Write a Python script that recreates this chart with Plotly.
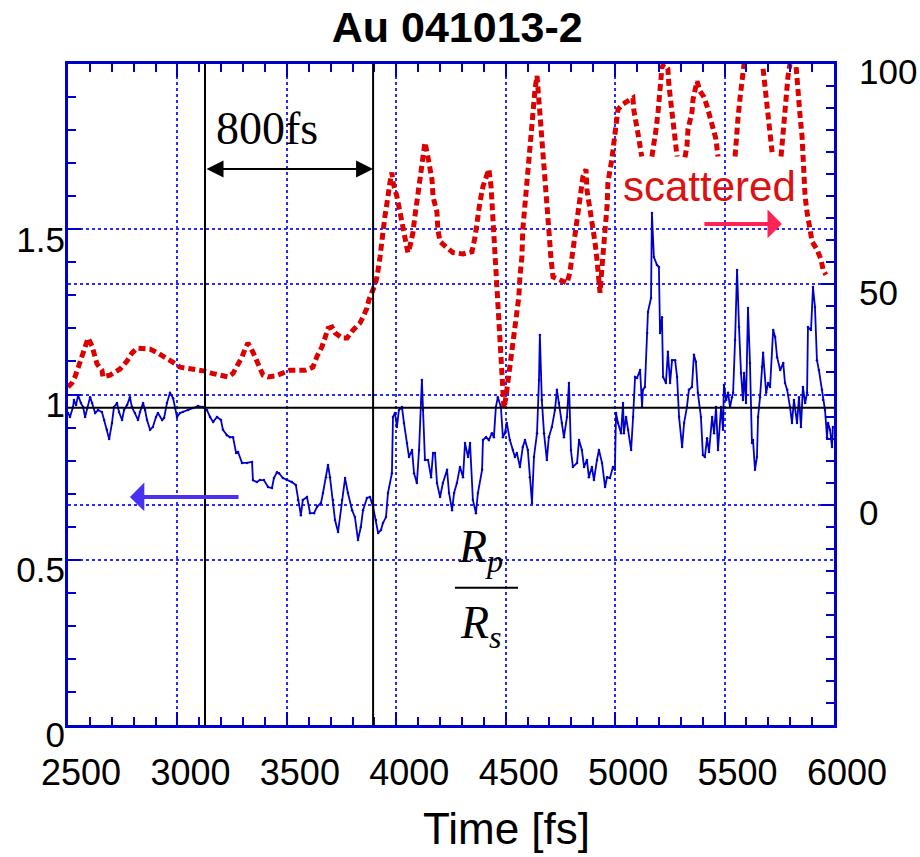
import plotly.graph_objects as go

# ---------------- data ----------------
blue_time = [2500, 2509, 2523, 2527, 2537, 2546, 2559, 2569, 2578, 2587, 2601, 2610, 2624, 2637, 2655, 2665,
             2678, 2688, 2701, 2710, 2724, 2733, 2747, 2756, 2770, 2783, 2792, 2806, 2820, 2829, 2843, 2852,
             2861, 2875, 2888, 2902, 2911, 2930, 2939, 2952, 2966, 2980, 2989, 2998, 3012, 3025, 3048, 3071,
             3094, 3117, 3135, 3149, 3163, 3181, 3199, 3208, 3226, 3240, 3254, 3268, 3277, 3295, 3318, 3341,
             3345, 3363, 3377, 3395, 3414, 3432, 3441, 3455, 3464, 3482, 3500, 3523, 3541, 3551, 3564, 3573,
             3592, 3606, 3624, 3638, 3656, 3665, 3679, 3688, 3697, 3711, 3720, 3734, 3752, 3766, 3779, 3798,
             3811, 3825, 3838, 3848, 3866, 3880, 3894, 3907, 3917, 3930, 3939, 3953, 3962, 3980, 3985, 3994,
             4003, 4012, 4026, 4035, 4049, 4058, 4072, 4081, 4094, 4104, 4117, 4122, 4131, 4145, 4159, 4168,
             4177, 4186, 4200, 4213, 4232, 4241, 4255, 4264, 4277, 4291, 4305, 4314, 4328, 4337, 4350, 4364,
             4373, 4392, 4396, 4410, 4423, 4437, 4446, 4455, 4464, 4478, 4487, 4496, 4505, 4519, 4533, 4542,
             4551, 4565, 4578, 4588, 4601, 4610, 4620, 4629, 4643, 4652, 4656, 4665, 4675, 4688, 4697, 4711,
             4725, 4734, 4743, 4757, 4766, 4780, 4789, 4798, 4807, 4826, 4835, 4848, 4858, 4871, 4880, 4894,
             4903, 4917, 4926, 4940, 4954, 4963, 4976, 4990, 4999, 5004, 5013, 5027, 5036, 5040, 5050, 5059,
             5073, 5082, 5091, 5100, 5114, 5123, 5127, 5136, 5146, 5150, 5164, 5168, 5177, 5191, 5200, 5205,
             5214, 5219, 5232, 5241, 5251, 5260, 5274, 5283, 5292, 5306, 5315, 5328, 5337, 5351, 5360, 5369,
             5378, 5392, 5401, 5410, 5420, 5429, 5443, 5452, 5461, 5470, 5484, 5493, 5497, 5507, 5516, 5525,
             5534, 5539, 5548, 5557, 5566, 5575, 5584, 5589, 5598, 5607, 5616, 5625, 5630, 5639, 5648, 5653,
             5662, 5671, 5676, 5690, 5699, 5708, 5722, 5731, 5740, 5754, 5768, 5776, 5786, 5799, 5808, 5817,
             5831, 5840, 5849, 5858, 5868, 5877, 5881, 5895, 5904, 5913, 5922, 5931, 5945, 5950, 5959, 5968,
             5973, 5982, 5991, 5995]
blue_ratio = [0.944, 0.932, 0.962, 0.983, 0.968, 0.998, 0.974, 0.962, 0.932, 0.959, 0.992, 0.974, 0.944, 0.953, 0.947, 0.923,
              0.893, 0.865, 0.914, 0.962, 0.974, 0.947, 0.923, 0.953, 0.968, 0.992, 0.962, 0.944, 0.923, 0.947, 0.974, 0.953,
              0.923, 0.893, 0.902, 0.932, 0.944, 0.923, 0.929, 0.974, 1.005, 0.989, 0.959, 0.932, 0.944, 0.947, 0.953, 0.959,
              0.965, 0.962, 0.953, 0.932, 0.917, 0.932, 0.923, 0.893, 0.877, 0.871, 0.871, 0.823, 0.826, 0.793, 0.793, 0.796,
              0.741, 0.735, 0.741, 0.741, 0.720, 0.717, 0.747, 0.765, 0.762, 0.747, 0.741, 0.735, 0.726, 0.681, 0.635, 0.681,
              0.690, 0.641, 0.641, 0.660, 0.672, 0.702, 0.750, 0.787, 0.750, 0.681, 0.620, 0.584, 0.681, 0.747, 0.702, 0.650,
              0.629, 0.560, 0.599, 0.650, 0.687, 0.690, 0.660, 0.620, 0.581, 0.590, 0.611, 0.629, 0.702, 0.762, 0.932, 0.944,
              0.902, 0.953, 0.962, 0.914, 0.853, 0.811, 0.832, 0.762, 0.732, 0.832, 1.044, 0.953, 0.802, 0.802, 0.750, 0.823,
              0.823, 0.732, 0.690, 0.732, 0.772, 0.702, 0.650, 0.702, 0.732, 0.781, 0.750, 0.853, 0.811, 0.853, 0.681, 0.641,
              0.702, 0.772, 0.862, 0.871, 0.862, 0.883, 0.871, 0.962, 0.992, 0.962, 0.871, 0.883, 0.914, 0.862, 0.832, 0.811,
              0.823, 0.781, 0.841, 0.862, 0.832, 0.750, 0.672, 0.811, 0.883, 1.044, 1.180, 0.983, 0.883, 0.802, 0.871, 0.902,
              0.953, 1.014, 0.974, 0.914, 0.871, 0.932, 1.035, 0.832, 0.781, 0.793, 0.862, 0.832, 0.781, 0.802, 0.750, 0.781,
              0.741, 0.802, 0.832, 0.793, 0.720, 0.750, 0.747, 0.781, 0.772, 0.944, 0.914, 0.883, 0.974, 0.883, 0.932, 0.893,
              0.832, 0.932, 1.053, 1.050, 1.074, 0.962, 1.014, 1.023, 1.186, 1.250, 1.292, 1.549, 1.416, 1.392, 1.386, 1.186,
              1.234, 1.053, 1.035, 1.129, 1.035, 1.104, 1.104, 1.053, 0.932, 0.841, 0.914, 0.962, 1.014, 1.023, 1.120, 1.099,
              1.005, 0.932, 0.817, 0.811, 0.868, 0.826, 0.932, 0.883, 0.962, 0.832, 0.962, 0.893, 1.029, 0.983, 1.005, 0.962,
              0.992, 1.005, 1.165, 1.377, 1.204, 1.065, 0.983, 1.065, 0.974, 1.262, 1.095, 0.853, 0.862, 0.772, 0.811, 0.932,
              0.992, 1.083, 1.126, 1.005, 1.035, 1.023, 1.195, 1.174, 1.113, 1.074, 1.095, 1.035, 1.014, 0.962, 0.914, 0.983,
              0.914, 0.992, 0.902, 1.023, 0.974, 1.005, 1.204, 1.195, 1.325, 1.265, 1.104, 1.074, 1.014, 0.983, 0.953, 0.871,
              0.914, 0.893, 0.841, 0.902]

red_time = [2500, 2518, 2532, 2546, 2564, 2578, 2592, 2610, 2632, 2655, 2660, 2692, 2715, 2738, 2770, 2792,
            2815, 2875, 2911, 2952, 2980, 3012, 3048, 3089, 3126, 3158, 3195, 3231, 3254, 3272, 3295, 3309,
            3322, 3345, 3363, 3377, 3391, 3414, 3446, 3478, 3514, 3583, 3619, 3638, 3660, 3674, 3688, 3706,
            3720, 3752, 3775, 3802, 3834, 3848, 3866, 3875, 3889, 3903, 3912, 3921, 3926, 3935, 3939, 3948,
            3958, 3962, 3971, 3980, 3985, 4003, 4012, 4026, 4040, 4053, 4062, 4076, 4085, 4094, 4099, 4108,
            4117, 4122, 4131, 4145, 4163, 4168, 4186, 4190, 4200, 4232, 4259, 4305, 4346, 4360, 4369, 4382,
            4396, 4414, 4423, 4433, 4437, 4442, 4451, 4456, 4460, 4469, 4474, 4478, 4487, 4492, 4501, 4510,
            4519, 4533, 4542, 4551, 4560, 4565, 4574, 4578, 4588, 4597, 4606, 4615, 4620, 4624, 4634, 4643,
            4652, 4661, 4670, 4679, 4688, 4697, 4706, 4716, 4748, 4780, 4793, 4807, 4821, 4830, 4839, 4853,
            4867, 4871, 4885, 4898, 4908, 4917, 4922, 4931, 4940, 4944, 4954, 4963, 4967, 4985, 4994, 5003,
            5013, 5036, 5058, 5081, 5086, 5100, 5109, 5118, 5122, None, 5168, 5173, 5187, 5196, 5201, 5210,
            5214, 5223, 5241, 5246, 5255, 5260, 5269, 5278, 5283, None, 5319, 5328, 5333, 5351, 5356, 5369,
            5374, 5388, 5406, 5420, 5438, 5447, 5461, 5466, 5470, None, 5548, 5552, 5561, 5570, 5580, 5584,
            5589, None, 5676, 5685, 5694, 5703, 5713, 5717, None, 5758, 5767, 5776, 5785, 5790, 5799, None,
            5827, 5831, 5836, 5845, 5854, 5858, 5863, 5868, 5877, 5886, 5900, 5922, 5941, 5950, 5963]
red_scattered = [26.7, 27.6, 29.0, 31.0, 33.0, 35.0, 37.8, 36.0, 32.0, 30.5, 29.0, 29.4, 30.0, 30.8, 32.6, 34.4,
                 35.5, 35.3, 34.4, 33.3, 32.3, 31.2, 31.0, 30.5, 30.3, 29.8, 29.4, 29.0, 29.8, 31.2, 33.5, 35.3,
                 36.7, 34.6, 32.8, 31.0, 29.4, 29.0, 29.2, 29.8, 30.5, 30.5, 31.2, 33.7, 35.8, 37.8, 40.0, 40.3,
                 39.0, 37.8, 37.8, 39.6, 41.2, 42.6, 44.6, 46.5, 48.0, 49.9, 51.7, 53.8, 56.3, 60.1, 62.4, 65.4,
                 68.6, 70.8, 73.1, 75.4, 73.1, 69.9, 67.4, 64.7, 60.8, 57.2, 58.5, 61.7, 65.4, 68.6, 71.5, 73.8,
                 77.7, 80.6, 82.2, 78.8, 73.8, 69.9, 66.3, 62.4, 59.7, 58.3, 57.2, 56.9, 57.4, 60.8, 64.7, 68.6,
                 72.2, 74.9, 76.1, 72.2, 68.6, 62.4, 57.2, 51.7, 46.5, 41.2, 35.1, 29.8, 25.3, 21.9, 24.4, 27.6,
                 31.2, 36.7, 40.3, 43.5, 47.2, 51.7, 56.3, 62.4, 68.6, 73.1, 78.4, 82.9, 87.5, 91.3, 94.3, 97.3,
                 92.0, 85.9, 80.0, 73.1, 67.7, 62.4, 56.3, 51.7, 51.0, 50.3, 52.6, 57.9, 62.4, 66.3, 70.8, 74.5,
                 76.1, 71.5, 67.0, 63.1, 59.5, 55.6, 51.7, 48.1, 54.0, 57.9, 62.4, 67.7, 73.1, 78.4, 82.9, 87.5,
                 89.7, 90.9, 91.6, 92.3, 89.3, 85.9, 82.9, 80.0, 79.0, None, 79.0, 81.3, 85.2, 89.1, 92.7, 96.6,
                 99.3, 100.0, 98.9, 95.0, 91.3, 87.5, 84.5, 81.3, 79.0, None, 78.8, 81.3, 85.2, 89.1, 92.0, 95.0,
                 96.1, 93.8, 92.5, 90.4, 87.5, 85.6, 82.9, 80.6, 79.0, None, 79.0, 82.9, 87.5, 92.0, 95.9, 98.9,
                 100.0, None, 98.9, 95.0, 91.3, 87.5, 83.6, 80.0, None, 79.0, 84.5, 89.1, 93.6, 97.3, 100.0, None,
                 99.3, 95.9, 92.7, 88.2, 83.6, 79.0, 74.5, 69.9, 66.3, 63.1, 59.7, 57.9, 55.6, 53.3, 52.2]

x_ticks = [2500, 3000, 3500, 4000, 4500, 5000, 5500, 6000]
left_ticks = [0, 0.5, 1, 1.5]
left_labels = ["0", "0.5", "1", "1.5"]
right_ticks = [0, 50, 100]
marker_times = [3126, 3894]     # the two vertical reference lines (800 fs apart)
unity_level = 0.96              # horizontal black reference line (left axis)

AXC = "#0000CC"
GRIDC = "#2a2aff"
FONT = "Arial, Liberation Sans, sans-serif"
SERIF = "Times New Roman, Liberation Serif, serif"

fig = go.Figure()
fig.add_trace(go.Scatter(x=blue_time, y=blue_ratio, mode="lines+markers",
                         line=dict(color="#0000CC", width=1.8),
                         marker=dict(color="#0000CC", size=2.5),
                         yaxis="y", showlegend=False))
fig.add_trace(go.Scatter(x=red_time, y=red_scattered, mode="lines",
                         line=dict(color="#DD0000", width=5, dash="7px,4px"),
                         connectgaps=False, yaxis="y2", showlegend=False))

for t in marker_times:
    fig.add_shape(type="line", xref="x", yref="paper", x0=t, x1=t, y0=0, y1=1,
                  line=dict(color="black", width=2))
fig.add_shape(type="line", xref="paper", yref="y", x0=0, x1=1, y0=unity_level, y1=unity_level,
              line=dict(color="black", width=2))

# 800 fs double arrow
fig.add_annotation(x=marker_times[1], y=1.682, ax=marker_times[0], ay=1.682, xref="x", yref="y",
                   axref="x", ayref="y", text="", showarrow=True, arrowhead=2, startarrowhead=2,
                   arrowside="end+start", arrowsize=1.7, startarrowsize=1.7, arrowwidth=2, arrowcolor="black")
fig.add_annotation(x=3409, y=1.806, xref="x", yref="y", text="800fs", showarrow=False,
                   font=dict(family=SERIF, size=46, color="black"))

# blue arrow (left axis)
fig.add_annotation(x=2783, y=0.69, ax=3286, ay=0.69, xref="x", yref="y", axref="x", ayref="y",
                   text="", showarrow=True, arrowhead=1, arrowsize=1.2, arrowwidth=4, arrowcolor="#4A30F0")

# scattered label and arrow
fig.add_annotation(x=5433, y=1.628, xref="x", yref="y", text="scattered", showarrow=False,
                   font=dict(family=FONT, size=42, color="#DD1111"))
fig.add_annotation(x=5762, y=1.516, ax=5401, ay=1.516, xref="x", yref="y", axref="x", ayref="y",
                   text="", showarrow=True, arrowhead=1, arrowsize=1.2, arrowwidth=4, arrowcolor="#FF2255")

# Rp / Rs
fig.add_annotation(x=4385, y=0.53, xref="x", yref="y", text="<i>R</i><sub><i>p</i></sub>",
                   showarrow=False, font=dict(family=SERIF, size=46, color="black"))
fig.add_annotation(x=4385, y=0.30, xref="x", yref="y", text="<i>R</i><sub><i>s</i></sub>",
                   showarrow=False, font=dict(family=SERIF, size=46, color="black"))
fig.add_shape(type="line", xref="x", yref="y", x0=4268, x1=4556, y0=0.415, y1=0.415,
              line=dict(color="black", width=2))

# x axis title
fig.add_annotation(x=0.573, y=-0.156, xref="paper", yref="paper", text="Time [fs]", showarrow=False,
                   font=dict(family=FONT, size=44, color="black"), yanchor="middle")

fig.update_layout(
    width=920, height=857,
    margin=dict(l=68, r=86, t=64, b=132),
    paper_bgcolor="white", plot_bgcolor="white",
    font=dict(family=FONT, color="black"),
    title=dict(text="<b>Au 041013-2</b>", x=0.497, xref="container", y=1 - 27 / 857, yref="container",
               xanchor="center", yanchor="middle", font=dict(family=FONT, size=43, color="black")),
    xaxis=dict(range=[2500, 6000], tickmode="array", tickvals=x_ticks, ticks="inside", ticklen=13,
               tickwidth=2, tickcolor=AXC, showline=True, linecolor=AXC, linewidth=3, mirror="ticks",
               showgrid=True, gridcolor=GRIDC, griddash="dot", gridwidth=1.5, zeroline=False,
               automargin=False,
               tickfont=dict(size=36, color="black"), ticklabelshift=13, ticklabelstandoff=14,
               minor=dict(dtick=100, tick0=2500, ticks="inside", ticklen=8, tickwidth=2, tickcolor=AXC,
                          showgrid=False)),
    yaxis=dict(range=[0, 2], tickmode="array", tickvals=left_ticks, ticktext=left_labels,
               ticks="inside", ticklen=13, tickwidth=2, tickcolor=AXC, automargin=False,
               showline=True, linecolor=AXC, linewidth=3, showgrid=True, gridcolor=GRIDC, griddash="dot",
               gridwidth=1.5, zeroline=False, tickfont=dict(size=35, color="black"),
               ticklabelshift=10, ticklabelstandoff=-7,
               minor=dict(dtick=0.1, tick0=0, ticks="inside", ticklen=8, tickwidth=2, tickcolor=AXC,
                          showgrid=False)),
    yaxis2=dict(range=[-50, 100], overlaying="y", side="right", tickmode="array", tickvals=right_ticks,
                ticks="inside", ticklen=13, tickwidth=2, tickcolor=AXC, automargin=False,
                showline=True, linecolor=AXC, linewidth=3, showgrid=True, gridcolor=GRIDC, griddash="dot",
                gridwidth=1.5, zeroline=False, tickfont=dict(size=35, color="black"),
                ticklabelshift=8, ticklabelstandoff=15,
                minor=dict(dtick=5, tick0=0, ticks="inside", ticklen=8, tickwidth=2, tickcolor=AXC,
                           showgrid=False)),
)

fig.write_html("out.html")
